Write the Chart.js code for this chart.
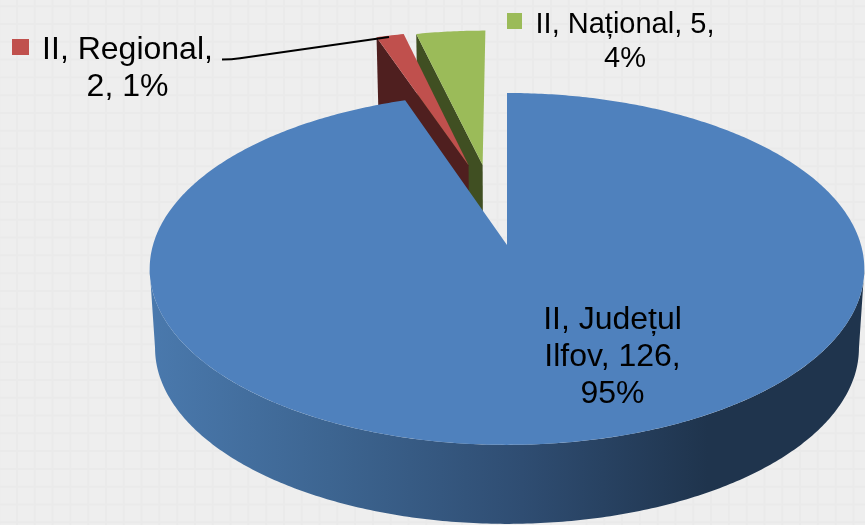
<!DOCTYPE html>
<html>
<head>
<meta charset="utf-8">
<style>
html, body { margin: 0; padding: 0; }
body {
    width: 865px; height: 525px; overflow: hidden;
    background-color: #eeeeee;
    background-image:
        linear-gradient(90deg, #eaeaea 2px, transparent 2px),
        linear-gradient(180deg, #eaeaea 2px, transparent 2px);
    background-size: 17.8px 17.8px;
    background-position: 16px 23px;
}
canvas { display: block; }
</style>
<script src="https://cdn.jsdelivr.net/npm/chart.js@4"></script>
</head>
<body>
<canvas id="graficoPizza" width="865" height="525"></canvas>
<script>
// dados
const categorias = ['II, Județul Ilfov', 'II, Regional', 'II, Național'];
const valores = [126, 2, 5];
const cores = ['#4f81bd', '#c0504d', '#9bbb59'];
const coresLateral = ['#1f344d', '#4f1f1f', '#404f22'];

// quebra de linha dos rótulos como no original
const rotulos = [
    ['II, Județul', 'Ilfov, 126,', '95%'],
    ['II, Regional,', '2, 1%'],
    ['II, Național, 5,', '4%']
];

// geometria da pizza "3D"
const centroX = 507, centroY = 245;
const raioX = 354, raioY = 172.7;
const perspectiva = 0.136;
const altura = 79, encolheBase = 0.985;
const explosao = [0, 0.506, 0.499];
const desvioExplosao = [0, 3.0, -1.7]; // graus

// posição e fonte dos rótulos
const posRotulos = [
    { x: 612.5, y: 329, linha: 37, fonte: 32 },
    { x: 127.5, y: 59, linha: 37, fonte: 32 },
    { x: 625, y: 33, linha: 33.5, fonte: 29 }
];
const chaves = [null, { x: 12, y: 39, w: 17, h: 16 }, { x: 507, y: 13, w: 15, h: 16 }];

function projeta(u, v) {
    const w = 1 - perspectiva * v;
    return [centroX + raioX * u / w, centroY + raioY * v / w];
}

function base(p) {
    return [centroX + (p[0] - centroX) * encolheBase, p[1] + altura];
}

function pontosBorda(ini, fim, ou, ov) {
    const n = Math.max(2, Math.ceil(Math.abs(fim - ini) * 90));
    const pts = [];
    for (let i = 0; i <= n; i++) {
        const a = ini + (fim - ini) * i / n;
        pts.push(projeta(ou + Math.cos(a), ov + Math.sin(a)));
    }
    return pts;
}

function caminho(ctx, pts, cor) {
    ctx.beginPath();
    pts.forEach((p, i) => i ? ctx.lineTo(p[0], p[1]) : ctx.moveTo(p[0], p[1]));
    ctx.closePath();
    ctx.fillStyle = cor;
    ctx.fill();
}

function desenhaFatia(ctx, arco, i) {
    const meio = (arco.startAngle + arco.endAngle) / 2 + desvioExplosao[i] * Math.PI / 180;
    const ou = explosao[i] * Math.cos(meio);
    const ov = explosao[i] * Math.sin(meio);
    const ponta = projeta(ou, ov);

    if (i === 0) {
        // parede da frente com degradê, entre os pontos extremos da elipse
        const g = ctx.createLinearGradient(150, 0, 865, 0);
        g.addColorStop(0, '#4a79ad');
        g.addColorStop(0.25, '#3d6591');
        g.addColorStop(0.52, '#2f4d72');
        g.addColorStop(0.78, '#1f344d');
        g.addColorStop(1, '#1f344d');
        const tangente = Math.asin(perspectiva);
        const frente = pontosBorda(tangente, Math.PI - tangente, ou, ov);
        caminho(ctx, frente.concat(frente.map(base).reverse()), g);
    } else {
        // parede radial à esquerda da fatia
        const borda = projeta(ou + Math.cos(arco.startAngle), ov + Math.sin(arco.startAngle));
        caminho(ctx, [ponta, borda, base(borda), base(ponta)], coresLateral[i]);
    }
    const topo = [ponta].concat(pontosBorda(arco.startAngle, arco.endAngle, ou, ov));
    caminho(ctx, topo, arco.options.backgroundColor);
}

const pizza3d = {
    id: 'pizza3d',
    beforeDatasetsDraw(chart) {
        const arcos = chart.getDatasetMeta(0).data;
        // verde atrás do vermelho, azul por cima de tudo
        [2, 1, 0].forEach(i => desenhaFatia(chart.ctx, arcos[i], i));
        return false;
    },
    afterDraw(chart) {
        const ctx = chart.ctx;
        ctx.save();
        // linha de chamada do rótulo regional
        ctx.beginPath();
        ctx.moveTo(222, 59.5);
        ctx.quadraticCurveTo(232, 59.5, 240, 58.3);
        ctx.lineTo(389, 37);
        ctx.strokeStyle = '#000';
        ctx.lineWidth = 2;
        ctx.stroke();

        ctx.textAlign = 'center';
        ctx.textBaseline = 'alphabetic';
        ctx.fillStyle = '#000';
        rotulos.forEach((linhas, i) => {
            const p = posRotulos[i];
            ctx.font = p.fonte + 'px "Liberation Sans", Arial, sans-serif';
            linhas.forEach((t, j) => ctx.fillText(t, p.x, p.y + j * p.linha));
            if (chaves[i]) {
                ctx.fillStyle = cores[i];
                ctx.fillRect(chaves[i].x, chaves[i].y, chaves[i].w, chaves[i].h);
                ctx.fillStyle = '#000';
            }
        });
        ctx.restore();
    }
};

const ctx = document.getElementById('graficoPizza').getContext('2d');
let graficoPizza = new Chart(ctx, {
    type: 'pie',
    data: {
        labels: categorias,
        datasets: [{
            data: valores,
            backgroundColor: cores,
            borderWidth: 0
        }]
    },
    options: {
        responsive: false,
        animation: false,
        plugins: {
            legend: { display: false },
            tooltip: { enabled: false }
        }
    },
    plugins: [pizza3d]
});
</script>
</body>
</html>
